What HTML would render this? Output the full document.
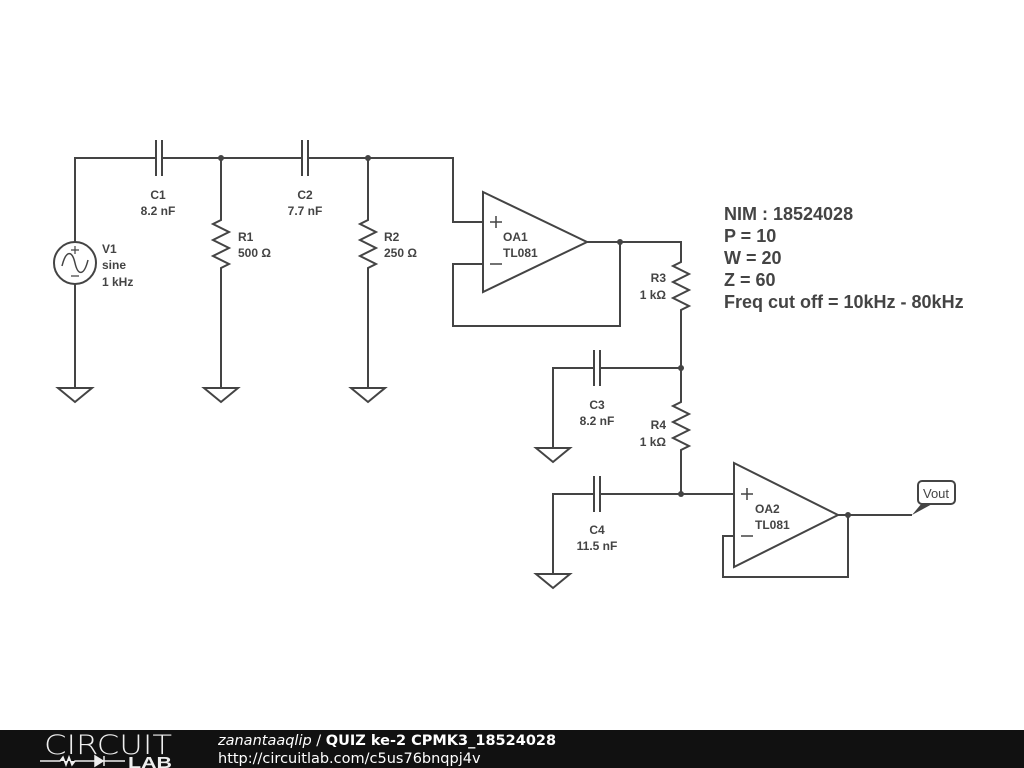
<!DOCTYPE html>
<html><head><meta charset="utf-8"><style>
body{margin:0;width:1024px;height:768px;background:#fff;overflow:hidden;font-family:"Liberation Sans",sans-serif}
</style></head><body>
<svg width="1024" height="768" xmlns="http://www.w3.org/2000/svg" style="position:absolute;left:0;top:0">
<g stroke="#444" stroke-width="2" fill="none">
<path d="M75,242 V158 H156 M162,158 H302 M308,158 H453 V222 H483"/>
<path d="M156,140 V176 M162,140 V176 M302,140 V176 M308,140 V176"/>
<circle cx="75" cy="263" r="21" fill="#fff"/>
<path d="M75,284 V388"/>
<path d="M62,266 C66,250 72,250 75,263 C78,276 84,276 88,260" stroke-width="1.5"/>
<path d="M75,246 V254 M71,250 H79 M71,276 H79" stroke-width="1.2"/>
<path d="M221,158 V220 l-8,4 16,8 -16,8 16,8 -16,8 16,8 -8,4 V388"/>
<path d="M368,158 V220 l-8,4 16,8 -16,8 16,8 -16,8 16,8 -8,4 V388"/>
<path d="M58,388 H92 L75,402 Z M204,388 H238 L221,402 Z M351,388 H385 L368,402 Z M536,448 H570 L553,462 Z M536,574 H570 L553,588 Z"/>
<path d="M483,192 L587,242 L483,292 Z" fill="#fff"/>
<path d="M483,264 H453 V326 H620 V242 M587,242 H681 V262 l-8,4 16,8 -16,8 16,8 -16,8 16,8 -8,4 V368"/>
<path d="M490,222 H502 M496,216 V228 M490,264 H502" stroke-width="1.5"/>
<path d="M681,368 H600 M594,368 H553 V448 M594,350 V386 M600,350 V386"/>
<path d="M681,368 V402 l-8,4 16,8 -16,8 16,8 -16,8 16,8 -8,4 V494"/>
<path d="M553,574 V494 H594 M600,494 H734 M594,476 V512 M600,476 V512"/>
<path d="M734,463 L838,515 L734,567 Z" fill="#fff"/>
<path d="M734,536 H723 V577 H848 V515 M838,515 H912"/>
<path d="M741,494 H753 M747,488 V500 M741,536 H753" stroke-width="1.5"/>
<rect x="918" y="481" width="37" height="23" rx="4" fill="#fff"/>
</g>
<path d="M912,515 L922,503 L934,503 Z" fill="#444"/>
<g fill="#444">
<circle cx="221" cy="158" r="3"/><circle cx="368" cy="158" r="3"/>
<circle cx="620" cy="242" r="3"/><circle cx="681" cy="368" r="3"/>
<circle cx="681" cy="494" r="3"/><circle cx="848" cy="515" r="3"/>
</g>
<g font-family="Liberation Sans, sans-serif" font-size="12" font-weight="bold" fill="#444">
<text x="158" y="199" text-anchor="middle">C1</text><text x="158" y="215" text-anchor="middle">8.2 nF</text>
<text x="305" y="199" text-anchor="middle">C2</text><text x="305" y="215" text-anchor="middle">7.7 nF</text>
<text x="102" y="253">V1</text><text x="102" y="269">sine</text><text x="102" y="286">1 kHz</text>
<text x="238" y="241">R1</text><text x="238" y="257">500 Ω</text>
<text x="384" y="241">R2</text><text x="384" y="257">250 Ω</text>
<text x="503" y="241">OA1</text><text x="503" y="257">TL081</text>
<text x="666" y="282" text-anchor="end">R3</text><text x="666" y="299" text-anchor="end">1 kΩ</text>
<text x="597" y="409" text-anchor="middle">C3</text><text x="597" y="425" text-anchor="middle">8.2 nF</text>
<text x="666" y="429" text-anchor="end">R4</text><text x="666" y="446" text-anchor="end">1 kΩ</text>
<text x="597" y="534" text-anchor="middle">C4</text><text x="597" y="550" text-anchor="middle">11.5 nF</text>
<text x="755" y="513">OA2</text><text x="755" y="529">TL081</text>
<text x="936" y="498" text-anchor="middle" font-weight="normal" font-size="13">Vout</text>
</g>
<g font-family="Liberation Sans, sans-serif" font-size="18" font-weight="bold" fill="#444">
<text x="724" y="220">NIM : 18524028</text>
<text x="724" y="242">P = 10</text>
<text x="724" y="264">W = 20</text>
<text x="724" y="286">Z = 60</text>
<text x="724" y="308">Freq cut off = 10kHz - 80kHz</text>
</g>
<rect x="0" y="730" width="1024" height="38" fill="#111"/>
<text x="44" y="754" font-family="DejaVu Sans, sans-serif" font-size="27" font-weight="200" fill="#eee" textLength="128" lengthAdjust="spacingAndGlyphs">CIRCUIT</text>
<path d="M40,761 H60 l3,-4 3,8 3,-8 3,8 3,-4 H95 M95,756 V766 L103,761 Z M104,756 V766 M104,761 H125" stroke="#eee" stroke-width="1.5" fill="#eee"/>
<text x="128" y="768" font-family="Liberation Sans, sans-serif" font-size="16" font-weight="bold" fill="#eee" textLength="44" lengthAdjust="spacingAndGlyphs">LAB</text>
<text x="218" y="745" font-family="DejaVu Sans, sans-serif" font-size="14.5" fill="#fff"><tspan font-style="italic">zanantaaqlip</tspan> / <tspan font-weight="bold">QUIZ ke-2 CPMK3_18524028</tspan></text>
<text x="218" y="763" font-family="DejaVu Sans, sans-serif" font-size="14.5" fill="#fff">http://circuitlab.com/c5us76bnqpj4v</text>
</svg>
</body></html>
